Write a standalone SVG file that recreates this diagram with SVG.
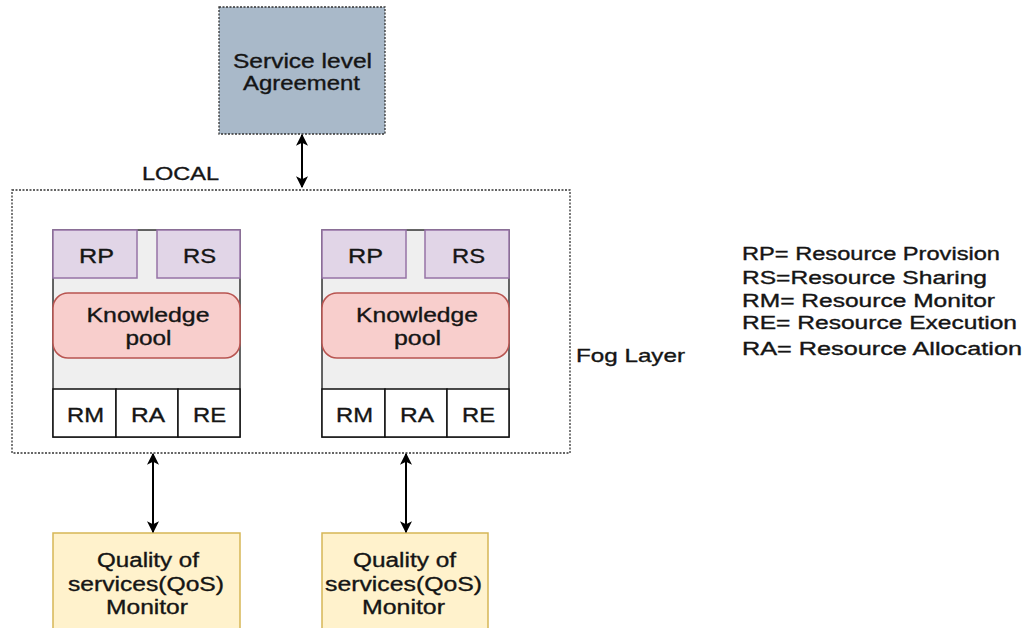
<svg xmlns="http://www.w3.org/2000/svg" width="1029" height="628" viewBox="0 0 1029 628">
  <style>
    text { font-family: "Liberation Sans", Arial, sans-serif; fill: #151515; stroke: #151515; stroke-width: 0.35; }
    .lbl { font-size: 20px; text-anchor: middle; }
    .cell { font-size: 20px; text-anchor: middle; }
    .legend { font-size: 18px; white-space: pre; }
    .dotted { fill: none; stroke: #333; stroke-width: 1.3; stroke-dasharray: 2 1.5; }
    .purple { fill: #e1d5e7; stroke: #9673a6; stroke-width: 1.5; }
    .pool { fill: #f8cecc; stroke: #b85450; stroke-width: 1.5; }
    .white { fill: #ffffff; stroke: #111; stroke-width: 1.5; }
    .qos { fill: #fff2cc; stroke: #d6b656; stroke-width: 1.5; }
    .conn { stroke: #000; stroke-width: 2; fill: none; marker-start: url(#head); marker-end: url(#head); }
  </style>
  <defs>
    <marker id="head" viewBox="0 0 10 10" refX="9" refY="5" markerWidth="12" markerHeight="12" markerUnits="userSpaceOnUse" orient="auto-start-reverse">
      <path d="M0,0 L10,5 L0,10 L2.5,5 Z" fill="#000"/>
    </marker>
  </defs>
  <rect width="1029" height="628" fill="#fff"/>

  <!-- SLA -->
  <g id="sla">
    <rect x="219" y="7" width="166" height="127" class="dotted" style="fill:#a9b9c9"/>
    <text class="lbl" x="302.5" y="68" font-size="21" textLength="139" lengthAdjust="spacingAndGlyphs">Service level</text>
    <text class="lbl" x="301.5" y="90" font-size="21" textLength="117" lengthAdjust="spacingAndGlyphs">Agreement</text>
  </g>

  <!-- Local fog layer boundary -->
  <g id="local">
    <rect x="12" y="190" width="558" height="263" class="dotted"/>
    <text x="142" y="180" font-size="18" textLength="77" lengthAdjust="spacingAndGlyphs">LOCAL</text>
    <text x="576" y="362" font-size="19" textLength="109" lengthAdjust="spacingAndGlyphs">Fog Layer</text>
  </g>

  <!-- Left fog node -->
  <g id="node-left">
    <rect x="53" y="230" width="187" height="207" fill="#efefef" stroke="#333" stroke-width="1.5"/>
    <rect x="53" y="230" width="84" height="48" class="purple"/>
    <rect x="157" y="230" width="83" height="48" class="purple"/>
    <text class="cell" x="96.5" y="263" textLength="35" lengthAdjust="spacingAndGlyphs">RP</text>
    <text class="cell" x="199.5" y="263" textLength="33" lengthAdjust="spacingAndGlyphs">RS</text>
    <rect x="53" y="293" width="187" height="65" rx="15" class="pool"/>
    <text class="lbl" x="148" y="322" textLength="123" lengthAdjust="spacingAndGlyphs">Knowledge</text>
    <text class="lbl" x="148.5" y="345" textLength="46" lengthAdjust="spacingAndGlyphs">pool</text>
    <rect x="53" y="389" width="63" height="48" class="white"/>
    <rect x="116" y="389" width="62" height="48" class="white"/>
    <rect x="178" y="389" width="62" height="48" class="white"/>
    <text class="cell" x="85.5" y="422" textLength="37" lengthAdjust="spacingAndGlyphs">RM</text>
    <text class="cell" x="148" y="422" textLength="34" lengthAdjust="spacingAndGlyphs">RA</text>
    <text class="cell" x="209.5" y="422" textLength="33" lengthAdjust="spacingAndGlyphs">RE</text>
  </g>

  <!-- Right fog node -->
  <g id="node-right">
    <rect x="322" y="230" width="187" height="207" fill="#efefef" stroke="#333" stroke-width="1.5"/>
    <rect x="322" y="230" width="84" height="48" class="purple"/>
    <rect x="425" y="230" width="84" height="48" class="purple"/>
    <text class="cell" x="365.5" y="263" textLength="35" lengthAdjust="spacingAndGlyphs">RP</text>
    <text class="cell" x="468.5" y="263" textLength="33" lengthAdjust="spacingAndGlyphs">RS</text>
    <rect x="322" y="293" width="187" height="65" rx="15" class="pool"/>
    <text class="lbl" x="417" y="322" textLength="122" lengthAdjust="spacingAndGlyphs">Knowledge</text>
    <text class="lbl" x="417.5" y="345" textLength="47" lengthAdjust="spacingAndGlyphs">pool</text>
    <rect x="322" y="389" width="63" height="48" class="white"/>
    <rect x="385" y="389" width="62" height="48" class="white"/>
    <rect x="447" y="389" width="62" height="48" class="white"/>
    <text class="cell" x="354.5" y="422" textLength="37" lengthAdjust="spacingAndGlyphs">RM</text>
    <text class="cell" x="417" y="422" textLength="34" lengthAdjust="spacingAndGlyphs">RA</text>
    <text class="cell" x="478.5" y="422" textLength="33" lengthAdjust="spacingAndGlyphs">RE</text>
  </g>

  <!-- QoS monitors -->
  <g id="qos-left">
    <rect x="53" y="533" width="187" height="100" class="qos"/>
    <text class="lbl" x="148" y="567" textLength="102" lengthAdjust="spacingAndGlyphs">Quality of</text>
    <text class="lbl" x="146" y="591" textLength="156" lengthAdjust="spacingAndGlyphs">services(QoS)</text>
    <text class="lbl" x="147" y="614" textLength="82" lengthAdjust="spacingAndGlyphs">Monitor</text>
  </g>
  <g id="qos-right">
    <rect x="322" y="533" width="166" height="100" class="qos"/>
    <text class="lbl" x="404.5" y="567" textLength="103" lengthAdjust="spacingAndGlyphs">Quality of</text>
    <text class="lbl" x="403.5" y="591" textLength="157" lengthAdjust="spacingAndGlyphs">services(QoS)</text>
    <text class="lbl" x="403.5" y="614" textLength="83" lengthAdjust="spacingAndGlyphs">Monitor</text>
  </g>

  <!-- Legend -->
  <g id="legend" class="legend">
    <text x="742" y="260" textLength="258" lengthAdjust="spacingAndGlyphs">RP= Resource Provision</text>
    <text x="742" y="284" textLength="245" lengthAdjust="spacingAndGlyphs">RS=Resource Sharing</text>
    <text x="742" y="307" textLength="253" lengthAdjust="spacingAndGlyphs">RM= Resource Monitor</text>
    <text x="742" y="329" textLength="275" lengthAdjust="spacingAndGlyphs">RE= Resource Execution</text>
    <text x="742" y="355" textLength="280" lengthAdjust="spacingAndGlyphs">RA= Resource  Allocation</text>
  </g>

  <!-- Connectors -->
  <g id="connectors">
    <line class="conn" x1="302" y1="135" x2="302" y2="187"/>
    <line class="conn" x1="153" y1="454" x2="153" y2="532"/>
    <line class="conn" x1="406" y1="454" x2="406" y2="532"/>
  </g>
</svg>
